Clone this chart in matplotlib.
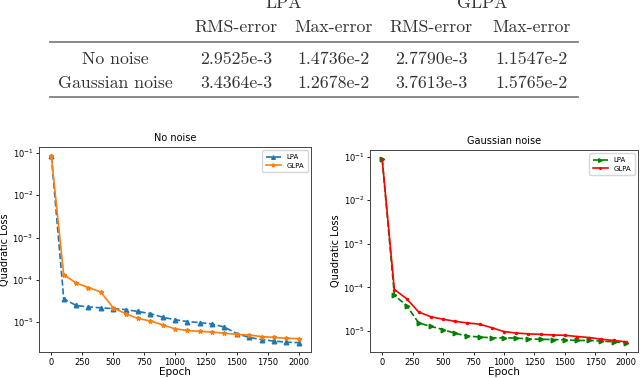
import matplotlib
matplotlib.use("Agg")
import matplotlib.pyplot as plt
from matplotlib.lines import Line2D

# Table data
col_groups = ["LPA", "GLPA"]
col_names = ["RMS-error", "Max-error", "RMS-error", "Max-error"]
row_names = ["No noise", "Gaussian noise"]
table_vals = [["2.9525e-3", "1.4736e-2", "2.7790e-3", "1.1547e-2"],
              ["3.4364e-3", "1.2678e-2", "3.7613e-3", "1.5765e-2"]]

# Loss curves
epochs = list(range(0, 2001, 100))
lpa_clean = [8.3e-2, 3.6e-5, 2.5e-5, 2.3e-5, 2.2e-5, 2.1e-5, 2.0e-5, 1.8e-5, 1.6e-5,
             1.32e-5, 1.15e-5, 1.04e-5, 9.8e-6, 9.1e-6, 7.7e-6, 5.4e-6, 4.4e-6,
             3.9e-6, 3.6e-6, 3.4e-6, 3.3e-6]
glpa_clean = [8.3e-2, 1.32e-4, 8.5e-5, 6.6e-5, 5.2e-5, 2.2e-5, 1.6e-5, 1.23e-5, 1.08e-5,
              8.7e-6, 7.0e-6, 6.4e-6, 6.1e-6, 5.9e-6, 5.5e-6, 5.2e-6, 5.0e-6,
              4.6e-6, 4.4e-6, 4.2e-6, 4.1e-6]
lpa_noise = [8.8e-2, 6.6e-5, 3.8e-5, 1.52e-5, 1.26e-5, 1.07e-5, 8.7e-6, 7.6e-6, 7.2e-6,
             6.9e-6, 6.9e-6, 6.8e-6, 6.5e-6, 6.4e-6, 6.3e-6, 6.2e-6, 6.0e-6,
             6.0e-6, 5.8e-6, 5.6e-6, 5.3e-6]
glpa_noise = [8.8e-2, 8.9e-5, 5.5e-5, 2.7e-5, 2.1e-5, 1.85e-5, 1.65e-5, 1.52e-5, 1.42e-5,
              1.18e-5, 9.6e-6, 8.9e-6, 8.5e-6, 8.3e-6, 8.0e-6, 7.9e-6, 7.4e-6,
              7.0e-6, 6.4e-6, 6.0e-6, 5.6e-6]

W, H = 640, 378
fig = plt.figure(figsize=(6.4, 3.78), dpi=100)

def fx(px):
    return px / W

def fy(py):
    return 1 - py / H

# --- table on top ---
tfont = dict(family="cmr10", fontsize=12.8, color="#333333", ha="center", va="center")
col_x = [236, 334, 431, 532]
fig.text(fx(284), fy(3), col_groups[0], **tfont)
fig.text(fx(482), fy(3), col_groups[1], **tfont)
for x, name in zip(col_x, col_names):
    fig.text(fx(x), fy(27), name, **tfont)
for y, rname, vals in zip([59, 83], row_names, table_vals):
    fig.text(fx(115), fy(y), rname, **tfont)
    for x, v in zip(col_x, vals):
        fig.text(fx(x), fy(y), v, **tfont)
for y in [42, 97]:
    fig.add_artist(Line2D([fx(50), fx(578)], [fy(y), fy(y)], color="#808080", lw=1.3))

# --- loss plots ---
ax1 = fig.add_axes([fx(39), fy(352), fx(272), 205 / H])
ax2 = fig.add_axes([fx(370), fy(352), fx(268), 202 / H])

ax1.plot(epochs, lpa_clean, "--^", color="#1f77b4", ms=3.3, lw=1.2, label="LPA")
ax1.plot(epochs, glpa_clean, "-*", color="#ff7f0e", ms=3.3, lw=1.2, label="GLPA")
ax1.set_title("No noise", fontsize=7, pad=4)

ax2.plot(epochs, lpa_noise, "g-->", ms=3.3, lw=1.2, label="LPA")
ax2.plot(epochs, glpa_noise, "r.-", ms=3, lw=1.2, label="GLPA")
ax2.set_title("Gaussian noise", fontsize=7, pad=4)

for ax in (ax1, ax2):
    ax.set_yscale("log")
    ax.set_xticks([0, 250, 500, 750, 1000, 1250, 1500, 1750, 2000])
    ax.set_xlabel("Epoch", fontsize=7.5, labelpad=0)
    ax.set_ylabel("Quadratic Loss", fontsize=7, labelpad=2)
    ax.tick_params(labelsize=6, length=2.5, width=0.6, pad=1.5)
    ax.tick_params(which="minor", left=False)
    for s in ax.spines.values():
        s.set_linewidth(0.7)
        s.set_color("#444444")
    ax.legend(loc="upper right", fontsize=5, handlelength=2.2, borderpad=0.5,
              labelspacing=0.4, markerscale=0.8)

fig.savefig("out.png", dpi=100)
